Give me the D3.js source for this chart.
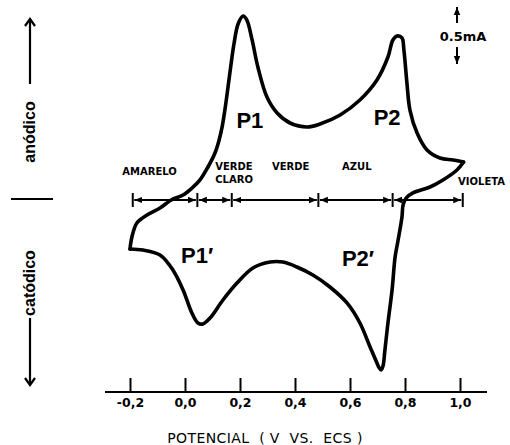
<!DOCTYPE html>
<html><head><meta charset="utf-8">
<script src="https://cdn.jsdelivr.net/npm/d3@7"></script>
<style>
html,body{margin:0;padding:0;background:#fff;}
svg{display:block;}
text{fill:#000;}
</style></head>
<body>
<svg id="chart" width="510" height="445"></svg>
<script>
// ---- data ----
const potentialTicks = [-0.2, 0.0, 0.2, 0.4, 0.6, 0.8, 1.0];
const tickLabels = ["-0,2", "0,0", "0,2", "0,4", "0,6", "0,8", "1,0"];

// anodic scan (upper branch), potential in V, current in mA
const anodicV = [-0.2, -0.193, -0.175, -0.138, -0.091, -0.05, -0.007, 0.0255, 0.0545, 0.0836, 0.109, 0.124, 0.135, 0.145, 0.156, 0.167, 0.178, 0.193, 0.211, 0.225, 0.244, 0.265, 0.298, 0.335, 0.382, 0.444, 0.491, 0.564, 0.636, 0.698, 0.738, 0.756, 0.771, 0.789, 0.796, 0.807, 0.818, 0.844, 0.88, 0.927, 0.975, 1.013];
const anodicI = [-0.445, -0.336, -0.209, -0.136, -0.073, 0.0, 0.045, 0.109, 0.182, 0.3, 0.427, 0.545, 0.664, 0.818, 1.018, 1.227, 1.418, 1.6, 1.673, 1.636, 1.455, 1.209, 0.936, 0.791, 0.7, 0.664, 0.691, 0.773, 0.909, 1.091, 1.3, 1.455, 1.491, 1.473, 1.364, 1.064, 0.818, 0.609, 0.455, 0.382, 0.364, 0.345];

// cathodic scan (lower branch)
const cathodicV = [1.013, 0.989, 0.938, 0.891, 0.829, 0.804, 0.793, 0.789, 0.775, 0.764, 0.753, 0.738, 0.727, 0.72, 0.713, 0.705, 0.698, 0.673, 0.636, 0.589, 0.527, 0.465, 0.407, 0.356, 0.309, 0.247, 0.189, 0.138, 0.091, 0.065, 0.047, 0.025, -0.007, -0.044, -0.091, -0.153, -0.2];
const cathodicI = [0.345, 0.273, 0.182, 0.118, 0.064, 0.018, -0.045, -0.155, -0.364, -0.518, -0.818, -1.118, -1.364, -1.509, -1.545, -1.52, -1.482, -1.336, -1.118, -0.936, -0.791, -0.682, -0.609, -0.564, -0.564, -0.618, -0.755, -0.909, -1.073, -1.127, -1.118, -1.027, -0.818, -0.636, -0.5, -0.455, -0.445];

// colour regions along the potential axis
const colorBounds = [-0.19, 0.045, 0.17, 0.485, 0.755, 1.01];
const colorNames = [["AMARELO"], ["VERDE", "CLARO"], ["VERDE"], ["AZUL"], ["VIOLETA"]];
const colorLabelV = [-0.228, 0.11, 0.316, 0.571, 0.993];
const colorLabelI = [0.23, 0.27, 0.27, 0.27, 0.14];

// peak labels
const peakNames = ["P1", "P2", "P1\u2032", "P2\u2032"];
const peakV = [0.236, 0.735, 0.044, 0.629];
const peakI = [0.655, 0.682, -0.573, -0.6];

// ---- drawing ----
const svg = d3.select("#chart");
const x = d3.scaleLinear().domain([-0.2, 1.0]).range([130, 460]);
const y = d3.scaleLinear().domain([-1, 1]).range([310, 90]);
const axisY = 392;
const FONT = "'DejaVu Sans', Verdana, sans-serif";

const defs = svg.append("defs");
defs.append("marker").attr("id", "tri").attr("viewBox", "0 -4 8 8")
  .attr("refX", 8).attr("refY", 0).attr("markerWidth", 8).attr("markerHeight", 8)
  .attr("markerUnits", "userSpaceOnUse").attr("orient", "auto-start-reverse")
  .append("path").attr("d", "M0,-3.2L8,0L0,3.2Z").attr("fill", "#000");
defs.append("marker").attr("id", "chev").attr("viewBox", "-10 -6 12 12")
  .attr("refX", 0).attr("refY", 0).attr("markerWidth", 12).attr("markerHeight", 12)
  .attr("markerUnits", "userSpaceOnUse").attr("orient", "auto")
  .append("path").attr("d", "M-7,-5L0,0L-7,5").attr("fill", "none")
  .attr("stroke", "#000").attr("stroke-width", 2.2).attr("stroke-linejoin", "miter");

// x axis
const xAxis = d3.axisTop(x).tickValues(potentialTicks)
  .tickFormat((d, i) => tickLabels[i]).tickSize(14).tickSizeOuter(0);
const gx = svg.append("g").attr("transform", `translate(0,${axisY})`).call(xAxis);
gx.select(".domain").remove();
gx.selectAll(".tick line").attr("stroke", "#000").attr("stroke-width", 2);
gx.selectAll(".tick text").attr("y", 15).attr("dy", 0)
  .style("font-family", FONT).style("font-size", "12.5px").style("font-weight", "bold")
  .attr("fill", "#000");
svg.append("line").attr("x1", 105).attr("x2", 487).attr("y1", axisY).attr("y2", axisY)
  .attr("stroke", "#000").attr("stroke-width", 2.2);

svg.append("text").attr("x", 265).attr("y", 443).attr("text-anchor", "middle")
  .style("font-family", FONT).style("font-size", "14px").style("letter-spacing", "0.4px")
  .style("white-space", "pre")
  .text("POTENCIAL  ( V  VS.  ECS )");

// colour range arrows
const rowY = y(0);
colorBounds.forEach(b => {
  svg.append("line").attr("x1", x(b)).attr("x2", x(b)).attr("y1", rowY - 7).attr("y2", rowY + 7)
    .attr("stroke", "#000").attr("stroke-width", 2);
});
for (let i = 0; i < colorBounds.length - 1; i++) {
  svg.append("line").attr("x1", x(colorBounds[i]) + 1.5).attr("x2", x(colorBounds[i + 1]) - 1.5)
    .attr("y1", rowY).attr("y2", rowY).attr("stroke", "#000").attr("stroke-width", 2)
    .attr("marker-start", "url(#tri)").attr("marker-end", "url(#tri)");
}
colorNames.forEach((lines, i) => {
  const t = svg.append("text").attr("x", x(colorLabelV[i])).attr("y", y(colorLabelI[i]))
    .style("font-family", FONT).style("font-size", "10px").style("font-weight", "bold");
  lines.forEach((ln, k) => {
    t.append("tspan").attr("x", x(colorLabelV[i])).attr("dy", k === 0 ? 0 : 13).text(ln);
  });
});

// voltammogram
const line = d3.line().x(d => x(d[0])).y(d => y(d[1])).curve(d3.curveCatmullRom.alpha(0.5));
const anodic = anodicV.map((v, i) => [v, anodicI[i]]);
const cathodic = cathodicV.map((v, i) => [v, cathodicI[i]]);
svg.append("path").attr("d", line(anodic)).attr("fill", "none").attr("stroke", "#000")
  .attr("stroke-width", 3.6).attr("stroke-linejoin", "round").attr("stroke-linecap", "round");
svg.append("path").attr("d", line(cathodic)).attr("fill", "none").attr("stroke", "#000")
  .attr("stroke-width", 3.6).attr("stroke-linejoin", "round").attr("stroke-linecap", "round");

// peak labels
peakNames.forEach((p, i) => {
  svg.append("text").attr("x", x(peakV[i])).attr("y", y(peakI[i])).attr("text-anchor", "middle")
    .style("font-family", "'Liberation Sans', Arial, sans-serif").style("font-size", "22px")
    .style("font-weight", "bold").text(p);
});

// scale bar 0.5 mA
svg.append("line").attr("x1", 457).attr("x2", 457).attr("y1", 23).attr("y2", 7)
  .attr("stroke", "#000").attr("stroke-width", 2).attr("marker-end", "url(#tri)");
svg.append("line").attr("x1", 457).attr("x2", 457).attr("y1", 47).attr("y2", 64)
  .attr("stroke", "#000").attr("stroke-width", 2).attr("marker-end", "url(#tri)");
svg.append("text").attr("x", 463).attr("y", 41).attr("text-anchor", "middle")
  .style("font-family", FONT).style("font-size", "13px").style("font-weight", "bold")
  .text("0.5mA");

// left side: anódico / catódico
svg.append("line").attr("x1", 30).attr("x2", 30).attr("y1", 84).attr("y2", 19)
  .attr("stroke", "#000").attr("stroke-width", 2.2).attr("marker-end", "url(#chev)");
svg.append("line").attr("x1", 30).attr("x2", 30).attr("y1", 318).attr("y2", 385)
  .attr("stroke", "#000").attr("stroke-width", 2.2).attr("marker-end", "url(#chev)");
svg.append("line").attr("x1", 11).attr("x2", 53).attr("y1", 199).attr("y2", 199)
  .attr("stroke", "#000").attr("stroke-width", 2.2);
svg.append("text").attr("transform", "translate(35,132) rotate(-90)").attr("text-anchor", "middle")
  .style("font-family", "'Liberation Sans', Arial, sans-serif").style("font-size", "16px")
  .style("font-weight", "bold").text("anódico");
svg.append("text").attr("transform", "translate(35,283) rotate(-90)").attr("text-anchor", "middle")
  .style("font-family", "'Liberation Sans', Arial, sans-serif").style("font-size", "16px")
  .style("font-weight", "bold").text("catódico");
</script>
</body></html>
